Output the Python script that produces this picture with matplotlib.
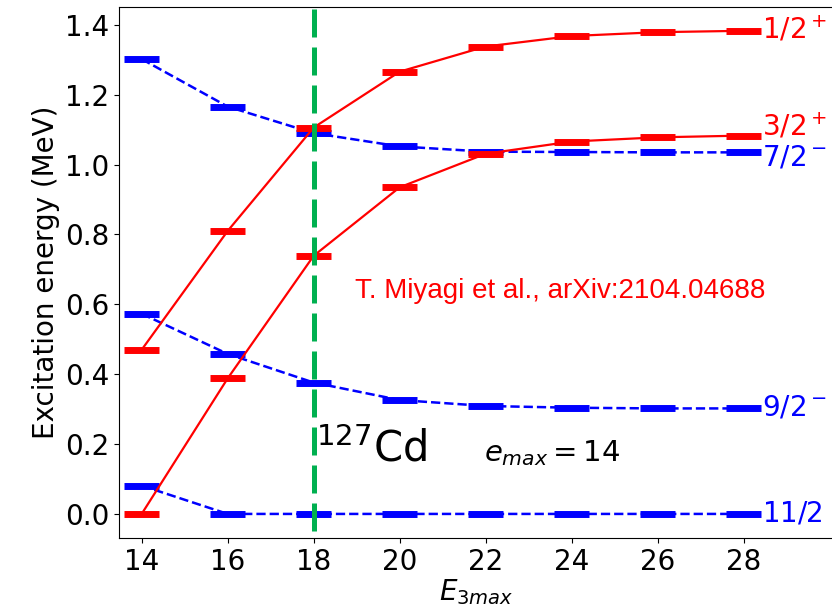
import matplotlib.pyplot as plt
import numpy as np

# E3max values and level energies (MeV) for 127Cd
e3max = [14, 16, 18, 20, 22, 24, 26, 28]

half_plus = [0.470, 0.810, 1.106, 1.266, 1.338, 1.368, 1.379, 1.383]
three_half_plus = [0.000, 0.388, 0.739, 0.935, 1.031, 1.066, 1.078, 1.083]
seven_half_minus = [1.302, 1.166, 1.090, 1.052, 1.037, 1.036, 1.035, 1.035]
nine_half_minus = [0.573, 0.458, 0.376, 0.326, 0.309, 0.304, 0.302, 0.302]
eleven_half_minus = [0.081, 0.000, 0.000, 0.000, 0.000, 0.000, 0.000, 0.000]

red_states = [half_plus, three_half_plus]
blue_states = [seven_half_minus, nine_half_minus, eleven_half_minus]

# the 11/2 label is cut at the right edge in the original, only "11/2" shows
labels = [r"$1/2^+$", r"$3/2^+$", r"$7/2^-$", r"$9/2^-$", r"$11/2$"]
label_y = [1.385, 1.11, 1.02, 0.305, 0.0]
label_colors = ["red", "red", "blue", "blue", "blue"]

fig = plt.figure(figsize=(8.32, 6.13), dpi=100)
# axes runs past the right edge like the cropped original
ax = fig.add_axes([0.1434, 0.1223, 0.8766, 0.8668])

x = np.array(e3max)
hw = 0.41

for vals in blue_states:
    ax.plot(x, vals, color="blue", ls="--", lw=1.8, zorder=2)
    ax.hlines(vals, x - hw, x + hw, color="blue", lw=5, zorder=2)

for vals in red_states:
    ax.hlines(vals, x - hw, x + hw, color="red", lw=5, zorder=3)
    ax.plot(x, vals, color="red", lw=1.6, zorder=4)

ax.vlines(18, -0.05, 1.5, color="#00b050", lw=3.6, linestyles=(0, (5.6, 2.0)),
          zorder=5)

for lab, ly, c in zip(labels, label_y, label_colors):
    ax.text(28.42, ly, lab, color=c, fontsize=20, ha="left", va="center")

ax.text(18.95, 0.618, "T. Miyagi et al., arXiv:2104.04688", color="red",
        fontsize=20, family="Liberation Sans", ha="left", va="baseline")
ax.text(18.05, 0.15, r"$^{127}$Cd", fontsize=30, ha="left", va="baseline")
ax.text(21.95, 0.15, r"$e_{max}=14$", fontsize=21, ha="left", va="baseline")

ax.set_xlim(13.48, 30.44)
ax.set_ylim(-0.069, 1.452)
ax.set_xticks([14, 16, 18, 20, 22, 24, 26, 28])
ax.set_yticks([0.0, 0.2, 0.4, 0.6, 0.8, 1.0, 1.2, 1.4])
ax.tick_params(labelsize=20)
ax.set_xlabel(r"$E_{3max}$", fontsize=20)
ax.xaxis.set_label_coords(0.489, -0.073)
ax.set_ylabel("Excitation energy (MeV)", fontsize=20)

fig.savefig("out.png", dpi=100)
